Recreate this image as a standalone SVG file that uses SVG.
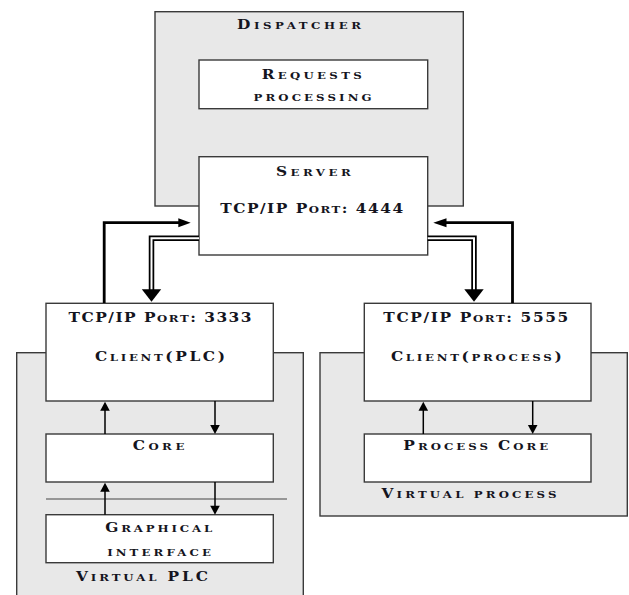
<svg xmlns="http://www.w3.org/2000/svg" width="629" height="595" viewBox="0 0 629 595">
<style>
.bg{fill:#e8e8e8;stroke:#3a3a3a;stroke-width:1.4}
.box{fill:#ffffff;stroke:#3a3a3a;stroke-width:1.4}
.t{font-family:"DejaVu Serif","Liberation Serif",serif;font-weight:bold;font-size:12.3px;fill:#141420;text-anchor:middle}
.s{font-size:9.4px;text-transform:uppercase}
.thick{fill:none;stroke:#000;stroke-width:2.8}
.dblo{fill:none;stroke:#000;stroke-width:5.5}
.dbli{fill:none;stroke:#fff;stroke-width:2}
.thin{fill:none;stroke:#000;stroke-width:1.5}
.sep{fill:none;stroke:#444;stroke-width:1.2}
.head{fill:#000}
</style>
<rect width="629" height="595" fill="#ffffff"/>

<g id="dispatcher">
<rect class="bg" x="155" y="11.7" width="308.3" height="194.3"/>
<text class="t" transform="translate(299,28.7) scale(1.25,1)" textLength="99.2" lengthAdjust="spacing">D<tspan class="s">ispatcher</tspan></text>
</g>
<g id="requests">
<rect class="box" x="199" y="60" width="228.7" height="48.7"/>
<text class="t" transform="translate(311.7,79.3) scale(1.25,1)" textLength="80" lengthAdjust="spacing">R<tspan class="s">equests</tspan></text>
<text class="t" transform="translate(312.5,100.7) scale(1.25,1)" textLength="94.4" lengthAdjust="spacing"><tspan class="s">processing</tspan></text>
</g>
<g id="server">
<rect class="box" x="199" y="156.7" width="228.7" height="98.3"/>
<text class="t" transform="translate(313.3,175.5) scale(1.25,1)" textLength="59.8" lengthAdjust="spacing">S<tspan class="s">erver</tspan></text>
<text class="t" transform="translate(311.7,213.3) scale(1.25,1)" textLength="146.4" lengthAdjust="spacing">TCP/IP P<tspan class="s">ort</tspan>: 4444</text>
</g>

<g id="virtual-plc">
<rect class="bg" x="16.7" y="352.7" width="286.6" height="250"/>
<text class="t" transform="translate(142,581) scale(1.25,1)" textLength="105.6" lengthAdjust="spacing">V<tspan class="s">irtual</tspan> PLC</text>
<line class="sep" x1="46" y1="499" x2="287" y2="499"/>
</g>
<g id="client-plc">
<rect class="box" x="46" y="303.3" width="227.3" height="97.7"/>
<text class="t" transform="translate(160,321.7) scale(1.25,1)" textLength="146.4" lengthAdjust="spacing">TCP/IP P<tspan class="s">ort</tspan>: 3333</text>
<text class="t" transform="translate(160,361) scale(1.25,1)" textLength="104" lengthAdjust="spacing">C<tspan class="s">lient</tspan>(PLC)</text>
</g>
<g id="core">
<rect class="box" x="46" y="434" width="227.3" height="48"/>
<text class="t" transform="translate(158.5,450) scale(1.25,1)" textLength="41.4" lengthAdjust="spacing">C<tspan class="s">ore</tspan></text>
</g>
<g id="graphical-interface">
<rect class="box" x="46" y="514.7" width="227.3" height="48"/>
<text class="t" transform="translate(158.7,532.3) scale(1.25,1)" textLength="85.6" lengthAdjust="spacing">G<tspan class="s">raphical</tspan></text>
<text class="t" transform="translate(159,555.7) scale(1.25,1)" textLength="83" lengthAdjust="spacing"><tspan class="s">interface</tspan></text>
</g>

<g id="virtual-process">
<rect class="bg" x="320" y="352.7" width="307.3" height="163.3"/>
<text class="t" transform="translate(469,498.3) scale(1.25,1)" textLength="140" lengthAdjust="spacing">V<tspan class="s">irtual process</tspan></text>
</g>
<g id="client-process">
<rect class="box" x="364.3" y="303.3" width="226.7" height="97.7"/>
<text class="t" transform="translate(475.8,321.7) scale(1.25,1)" textLength="148" lengthAdjust="spacing">TCP/IP P<tspan class="s">ort</tspan>: 5555</text>
<text class="t" transform="translate(476.3,361) scale(1.25,1)" textLength="136.6" lengthAdjust="spacing">C<tspan class="s">lient</tspan>(<tspan class="s">process</tspan>)</text>
</g>
<g id="process-core">
<rect class="box" x="364.3" y="434" width="226.7" height="48"/>
<text class="t" transform="translate(475.8,450) scale(1.25,1)" textLength="116" lengthAdjust="spacing">P<tspan class="s">rocess </tspan>C<tspan class="s">ore</tspan></text>
</g>

<g id="connectors">
<path class="thick" d="M104.2,303 V222.7 H180"/>
<polygon class="head" points="190.7,222.7 178.3,218.2 178.3,227.2"/>
<path class="dblo" d="M199,238.3 H151.5 V290"/>
<path class="dbli" d="M199,238.3 H151.5 V290"/>
<polygon class="head" points="141.8,289.3 161.2,289.3 151.5,301.8"/>
<path class="thick" d="M512.5,303 V222.7 H445"/>
<polygon class="head" points="433.3,222.7 446.5,218.2 446.5,227.2"/>
<path class="dblo" d="M427.7,238.3 H474 V290"/>
<path class="dbli" d="M427.7,238.3 H474 V290"/>
<polygon class="head" points="464.3,289.3 483.7,289.3 474,301.8"/>
<line class="thin" x1="105" y1="434" x2="105" y2="409"/>
<polygon class="head" points="105,401.7 100.2,410.7 109.8,410.7"/>
<line class="thin" x1="215" y1="401" x2="215" y2="426"/>
<polygon class="head" points="215,434 210.2,425 219.8,425"/>
<line class="thin" x1="105" y1="514.7" x2="105" y2="490"/>
<polygon class="head" points="105,482.7 100.2,491.7 109.8,491.7"/>
<line class="thin" x1="215" y1="482" x2="215" y2="507"/>
<polygon class="head" points="215,514.7 210.2,505.7 219.8,505.7"/>
<line class="thin" x1="423.3" y1="434" x2="423.3" y2="409"/>
<polygon class="head" points="423.3,401.7 418.5,410.7 428.1,410.7"/>
<line class="thin" x1="532.7" y1="401" x2="532.7" y2="426"/>
<polygon class="head" points="532.7,434 527.9,425 537.5,425"/>
</g>
</svg>
